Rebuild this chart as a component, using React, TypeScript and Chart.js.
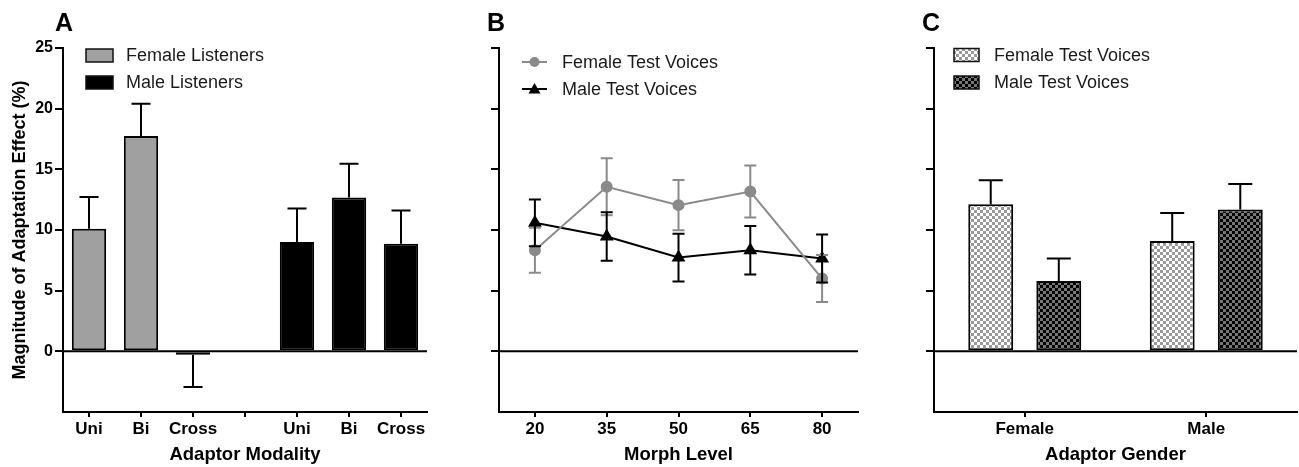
import React, { useEffect, useRef } from 'react';
import { Chart, registerables } from 'chart.js';

Chart.register(...registerables);

const FONT = '"Liberation Sans", Arial, Helvetica, sans-serif';

// ---------- Panel A data ----------
const modalityLabels = ['Uni', 'Bi', 'Cross', '', 'Uni', 'Bi', 'Cross'];
const femaleListenerMeans = [10.1, 17.75, -0.28];
const femaleListenerErr = [2.63, 2.65, 2.66];
const maleListenerMeans = [9.02, 12.68, 8.86];
const maleListenerErr = [2.75, 2.77, 2.74];

// ---------- Panel B data ----------
const morphLevels = ['20', '35', '50', '65', '80'];
const femaleVoiceMeans = [8.33, 13.56, 12.05, 13.17, 6.0];
const femaleVoiceErr = [1.85, 2.35, 2.07, 2.15, 1.93];
const maleVoiceMeans = [10.59, 9.46, 7.73, 8.33, 7.65];
const maleVoiceErr = [1.92, 2.0, 1.97, 2.0, 1.97];

// ---------- Panel C data ----------
const adaptorGenders = ['Female', 'Male'];
const femaleTestMeans = [12.13, 9.1];
const femaleTestErr = [1.97, 2.3];
const maleTestMeans = [5.8, 11.69];
const maleTestErr = [1.85, 2.11];

// ---------- shared axis ----------
const yTickValues = [0, 5, 10, 15, 20, 25];
const yMin = -5;
const yMax = 25;

const W = 433;
const H = 467;

function makeChecker(c1: string, c2: string, size: number) {
  const c = document.createElement('canvas');
  c.width = size * 2;
  c.height = size * 2;
  const g = c.getContext('2d')!;
  g.fillStyle = c1;
  g.fillRect(0, 0, size * 2, size * 2);
  g.fillStyle = c2;
  g.fillRect(0, 0, size, size);
  g.fillRect(size, size, size, size);
  return g.createPattern(c, 'repeat');
}

const errorBarsPlugin = {
  id: 'errorBars',
  afterDatasetsDraw(chart: any) {
    const { ctx } = chart;
    const ys = chart.scales.y;
    chart.data.datasets.forEach((ds: any, i: number) => {
      if (!ds.errors) return;
      const meta = chart.getDatasetMeta(i);
      ctx.save();
      ctx.strokeStyle = ds.errorColor || '#000';
      ctx.lineWidth = 2;
      const cap = ds.capWidth || 12;
      meta.data.forEach((el: any, j: number) => {
        const v = ds.data[j];
        const e = ds.errors[j];
        if (v == null || e == null) return;
        const x = el.x;
        let hi: number, lo: number;
        const both = ds.errorMode === 'both';
        if (both) {
          hi = v + e;
          lo = v - e;
        } else {
          hi = v >= 0 ? v + e : v - e;
          lo = v;
        }
        const yHi = ys.getPixelForValue(hi);
        const yLo = ys.getPixelForValue(lo);
        ctx.beginPath();
        ctx.moveTo(x, yLo);
        ctx.lineTo(x, yHi);
        ctx.moveTo(x - cap / 2, yHi);
        ctx.lineTo(x + cap / 2, yHi);
        if (both) {
          ctx.moveTo(x - cap / 2, yLo);
          ctx.lineTo(x + cap / 2, yLo);
        }
        ctx.stroke();
      });
      ctx.restore();
    });
  },
};

type LegendItem = {
  label: string;
  kind: 'box' | 'line';
  fill?: any;
  color?: string;
  marker?: 'circle' | 'triangle';
};

function decorPlugin(cfg: {
  letter: string;
  letterX: number;
  swatchX: number;
  swatchW: number;
  textX: number;
  rows: number[];
  items: LegendItem[];
}) {
  return {
    id: 'decor',
    beforeDatasetsDraw(chart: any) {
      const { ctx, chartArea } = chart;
      const y0 = chart.scales.y.getPixelForValue(0);
      ctx.save();
      ctx.strokeStyle = '#000';
      ctx.lineWidth = 2;
      ctx.beginPath();
      ctx.moveTo(chartArea.left, y0);
      ctx.lineTo(chartArea.right, y0);
      ctx.stroke();
      ctx.restore();
    },
    afterDraw(chart: any) {
      const { ctx } = chart;
      ctx.save();
      ctx.fillStyle = '#000';
      ctx.font = `bold 25px ${FONT}`;
      ctx.textBaseline = 'alphabetic';
      ctx.textAlign = 'left';
      ctx.fillText(cfg.letter, cfg.letterX, 31);

      cfg.items.forEach((it, i) => {
        const cy = cfg.rows[i];
        if (it.kind === 'box') {
          ctx.fillStyle = it.fill;
          ctx.fillRect(cfg.swatchX, cy - 6.5, cfg.swatchW, 13);
          ctx.strokeStyle = '#111';
          ctx.lineWidth = 1.5;
          ctx.strokeRect(cfg.swatchX, cy - 6.5, cfg.swatchW, 13);
        } else {
          ctx.strokeStyle = it.color;
          ctx.fillStyle = it.color;
          ctx.lineWidth = 2;
          ctx.beginPath();
          ctx.moveTo(cfg.swatchX, cy);
          ctx.lineTo(cfg.swatchX + cfg.swatchW, cy);
          ctx.stroke();
          const mx = cfg.swatchX + cfg.swatchW / 2;
          ctx.beginPath();
          if (it.marker === 'circle') {
            ctx.arc(mx, cy, 5, 0, Math.PI * 2);
          } else {
            ctx.moveTo(mx, cy - 6);
            ctx.lineTo(mx + 6, cy + 4.5);
            ctx.lineTo(mx - 6, cy + 4.5);
            ctx.closePath();
          }
          ctx.fill();
        }
        ctx.fillStyle = '#1a1a1a';
        ctx.font = `18px ${FONT}`;
        ctx.textBaseline = 'middle';
        ctx.fillText(it.label, cfg.textX, cy + 1);
      });
      ctx.restore();
    },
  };
}

function yScale(leftWidth: number, showLabels: boolean, title?: string) {
  return {
    min: yMin,
    max: yMax,
    afterBuildTicks: (s: any) => {
      s.ticks = yTickValues.map((v) => ({ value: v }));
    },
    afterFit: (s: any) => {
      s.width = leftWidth;
    },
    grid: {
      display: true,
      drawOnChartArea: false,
      drawTicks: true,
      tickLength: 8,
      tickWidth: 2,
      tickColor: '#000',
      color: '#000',
      lineWidth: 2,
    },
    border: { display: true, color: '#000', width: 2 },
    ticks: {
      display: showLabels,
      color: '#000',
      padding: 2,
      font: { family: FONT, size: 16, weight: 'bold' },
    },
    title: {
      display: !!title,
      text: title || '',
      color: '#000',
      font: { family: FONT, size: 18, weight: 'bold' },
      padding: { top: 9, bottom: 0 },
    },
  };
}

function xScale(title: string) {
  return {
    type: 'category',
    offset: true,
    afterFit: (s: any) => {
      s.height = 55;
    },
    grid: {
      display: true,
      drawOnChartArea: false,
      offset: false,
      drawTicks: true,
      tickLength: 5,
      tickWidth: 2,
      tickColor: '#000',
      color: '#000',
      lineWidth: 2,
    },
    border: { display: true, color: '#000', width: 2 },
    ticks: {
      color: '#000',
      padding: 2,
      autoSkip: false,
      maxRotation: 0,
      font: { family: FONT, size: 17, weight: 'bold' },
    },
    title: {
      display: true,
      text: title,
      color: '#000',
      font: { family: FONT, size: 18.5, weight: 'bold' },
      padding: { top: 0, bottom: 1 },
    },
  };
}

function baseOptions(rightPad: number, y: any, x: any) {
  return {
    responsive: false,
    animation: false,
    devicePixelRatio: 1,
    layout: { padding: { top: 48, right: rightPad, left: 0, bottom: 0 } },
    plugins: { legend: { display: false }, tooltip: { enabled: false } },
    scales: { x, y },
  };
}

function buildA(): any {
  const pad = (arr: number[], before: number, after: number) => [
    ...Array(before).fill(null),
    ...arr,
    ...Array(after).fill(null),
  ];
  return {
    type: 'bar',
    data: {
      labels: modalityLabels,
      datasets: [
        {
          label: 'Female Listeners',
          data: pad(femaleListenerMeans, 0, 4),
          errors: pad(femaleListenerErr, 0, 4),
          errorColor: '#000',
          capWidth: 19,
          backgroundColor: '#a0a0a0',
          borderColor: '#000',
          borderWidth: 2,
          borderSkipped: false,
          grouped: false,
          barPercentage: 0.66,
          categoryPercentage: 1,
        },
        {
          label: 'Male Listeners',
          data: pad(maleListenerMeans, 4, 0),
          errors: pad(maleListenerErr, 4, 0),
          errorColor: '#000',
          capWidth: 19,
          backgroundColor: '#000',
          borderColor: '#000',
          borderWidth: 2,
          borderSkipped: false,
          grouped: false,
          barPercentage: 0.66,
          categoryPercentage: 1,
        },
      ],
    },
    options: baseOptions(
      6,
      yScale(63, true, 'Magnitude of Adaptation Effect (%)'),
      xScale('Adaptor Modality')
    ),
    plugins: [
      errorBarsPlugin,
      decorPlugin({
        letter: 'A',
        letterX: 55,
        swatchX: 86,
        swatchW: 27,
        textX: 126,
        rows: [55.5, 82.5],
        items: [
          { label: 'Female Listeners', kind: 'box', fill: '#a0a0a0' },
          { label: 'Male Listeners', kind: 'box', fill: '#000' },
        ],
      }),
    ],
  };
}

const GREY = '#8a8a8a';

function buildB(): any {
  return {
    type: 'line',
    data: {
      labels: morphLevels,
      datasets: [
        {
          label: 'Female Test Voices',
          data: femaleVoiceMeans,
          errors: femaleVoiceErr,
          errorMode: 'both',
          errorColor: GREY,
          capWidth: 12,
          borderColor: GREY,
          backgroundColor: GREY,
          borderWidth: 2,
          pointRadius: 5,
          pointStyle: 'circle',
          pointBackgroundColor: GREY,
          pointBorderColor: GREY,
          tension: 0,
        },
        {
          label: 'Male Test Voices',
          data: maleVoiceMeans,
          errors: maleVoiceErr,
          errorMode: 'both',
          errorColor: '#000',
          capWidth: 12,
          borderColor: '#000',
          backgroundColor: '#000',
          borderWidth: 2,
          pointRadius: 6,
          pointStyle: 'triangle',
          pointBackgroundColor: '#000',
          pointBorderColor: '#000',
          tension: 0,
        },
      ],
    },
    options: baseOptions(4, yScale(66, false), xScale('Morph Level')),
    plugins: [
      errorBarsPlugin,
      decorPlugin({
        letter: 'B',
        letterX: 54,
        swatchX: 89,
        swatchW: 25,
        textX: 129,
        rows: [62, 89],
        items: [
          { label: 'Female Test Voices', kind: 'line', color: GREY, marker: 'circle' },
          { label: 'Male Test Voices', kind: 'line', color: '#000', marker: 'triangle' },
        ],
      }),
    ],
  };
}

function buildC(): any {
  const light = makeChecker('#ffffff', '#999999', 3);
  const dark = makeChecker('#000000', '#777777', 3);
  return {
    type: 'bar',
    data: {
      labels: adaptorGenders,
      datasets: [
        {
          label: 'Female Test Voices',
          data: femaleTestMeans,
          errors: femaleTestErr,
          errorColor: '#000',
          capWidth: 24,
          backgroundColor: light,
          borderColor: '#000',
          borderWidth: 2,
          borderSkipped: false,
          barPercentage: 0.66,
          categoryPercentage: 0.75,
        },
        {
          label: 'Male Test Voices',
          data: maleTestMeans,
          errors: maleTestErr,
          errorColor: '#000',
          capWidth: 24,
          backgroundColor: dark,
          borderColor: '#000',
          borderWidth: 2,
          borderSkipped: false,
          barPercentage: 0.66,
          categoryPercentage: 0.75,
        },
      ],
    },
    options: baseOptions(2, yScale(68, false), xScale('Adaptor Gender')),
    plugins: [
      errorBarsPlugin,
      decorPlugin({
        letter: 'C',
        letterX: 56,
        swatchX: 88,
        swatchW: 25,
        textX: 128,
        rows: [55, 82.5],
        items: [
          { label: 'Female Test Voices', kind: 'box', fill: light },
          { label: 'Male Test Voices', kind: 'box', fill: dark },
        ],
      }),
    ],
  };
}

function Panel({ left, build }: { left: number; build: () => any }) {
  const ref = useRef<HTMLCanvasElement | null>(null);
  useEffect(() => {
    if (!ref.current) return;
    const chart = new Chart(ref.current, build());
    return () => chart.destroy();
  }, []);
  return (
    <canvas
      ref={ref}
      width={W}
      height={H}
      style={{ position: 'absolute', left, top: 0, width: W, height: H }}
    />
  );
}

export default function App() {
  return (
    <div
      style={{
        position: 'absolute',
        left: 0,
        top: 0,
        width: 1299,
        height: 467,
        background: '#fff',
        overflow: 'hidden',
      }}
    >
      <Panel left={0} build={buildA} />
      <Panel left={433} build={buildB} />
      <Panel left={866} build={buildC} />
    </div>
  );
}
